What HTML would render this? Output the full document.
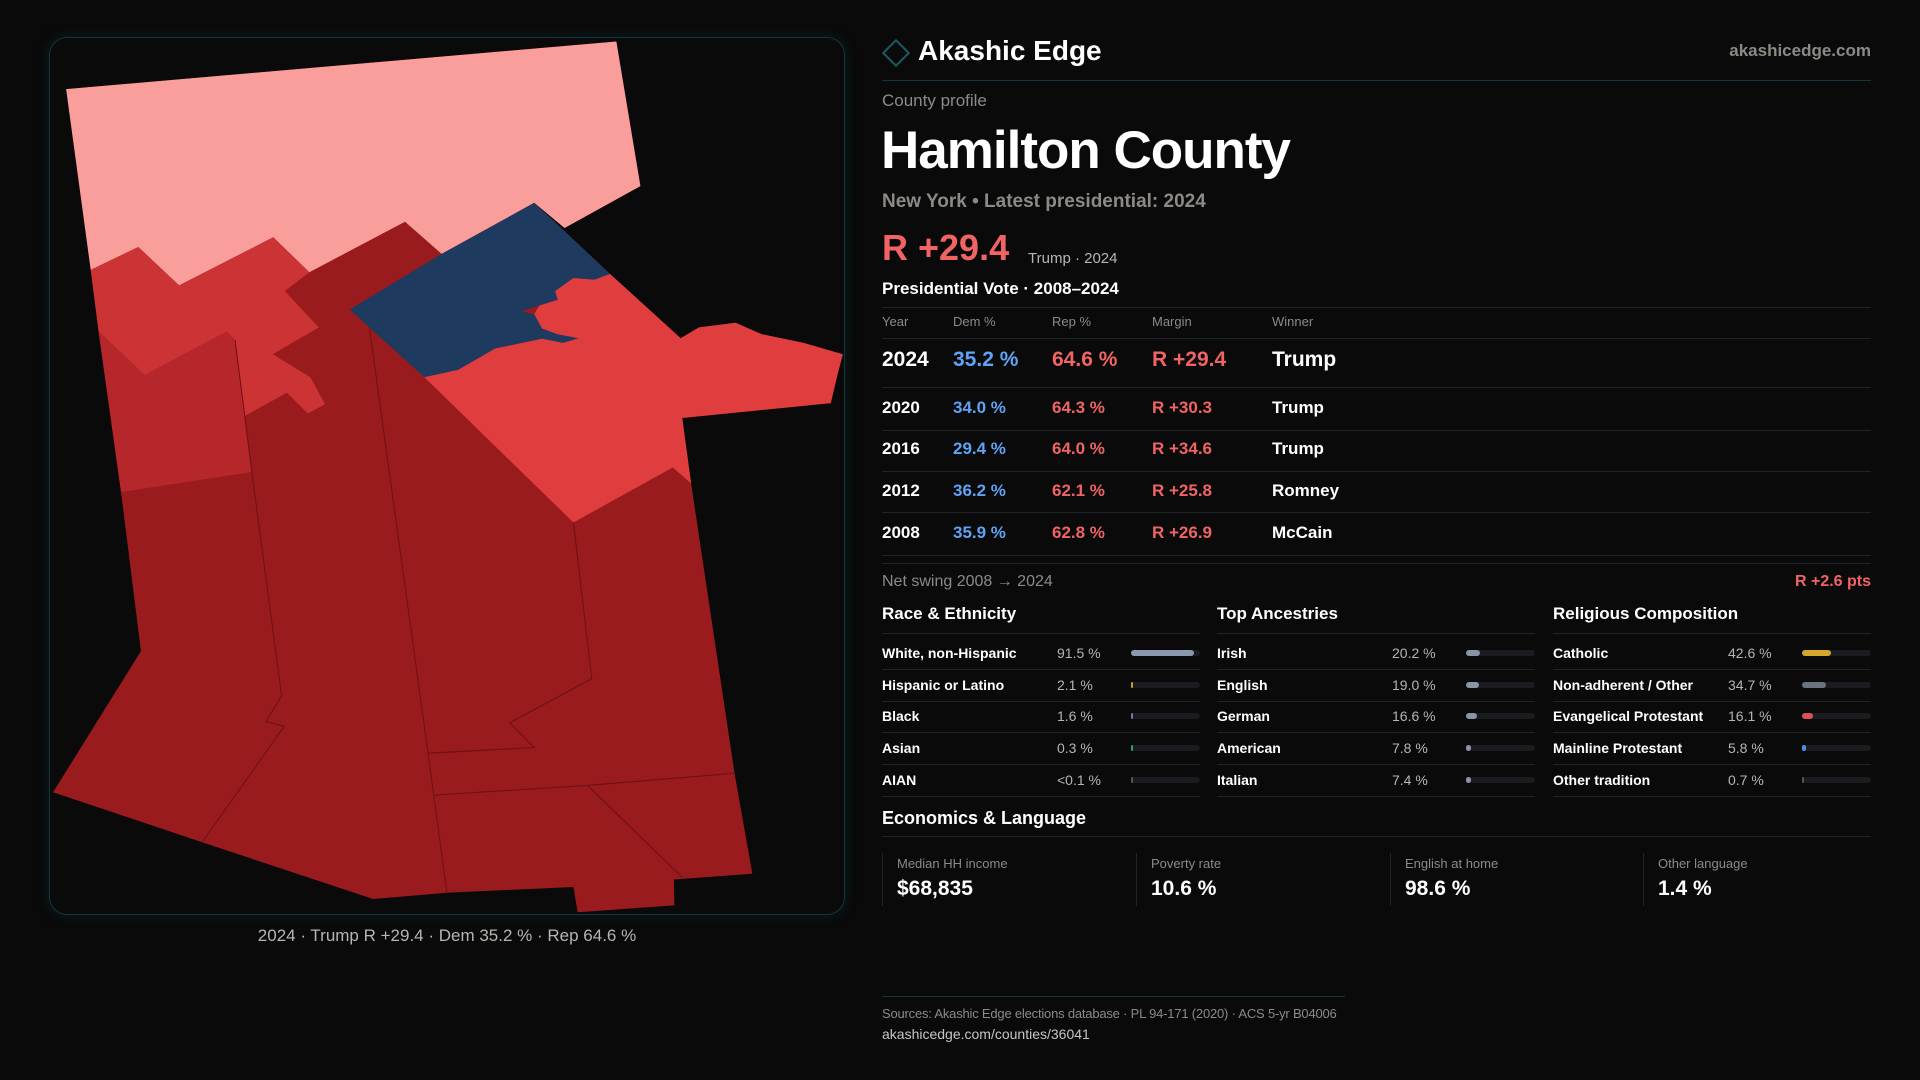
<!DOCTYPE html>
<html><head><meta charset="utf-8">
<style>
*{margin:0;padding:0;box-sizing:border-box}
body{width:1920px;height:1080px;background:#0a0a0b;font-family:"Liberation Sans",sans-serif;color:#fff;position:relative;overflow:hidden}
.a{position:absolute;white-space:nowrap}
.line{position:absolute;height:1px;background:#222326}
.dim{color:#8d8a86}
.blue{color:#5ea3f5}.red{color:#f06464}
</style></head><body>
<div class="a" style="left:49px;top:37px;width:796px;height:878px;border:1px solid #12363a;border-radius:18px;box-shadow:0 0 12px rgba(20,90,100,.25)"></div>
<svg class="a" style="left:0;top:0" width="900" height="960">
<g transform="translate(40,30) scale(0.523,0.574)">
<polygon fill="#991b1e" points="50,103 1102,20 1148,272 1003,345 945,301 1090,425 1225,537 1260,518 1330,510 1380,530 1460,545 1535,565 1525,600 1512,650 1228,676 1245,790 1328,1295 1362,1470 1212,1480 1213,1525 1028,1537 1020,1493 778,1503 637,1514 310,1415 25,1328 193,1082 155,805 112,525 97,418"/>
<polygon fill="#fa9e9c" points="50,103 1102,20 1148,272 1003,345 945,301 768,390 698,334 515,422 446,361 266,445 188,378 97,418"/>
<polygon fill="#1f3a5f" points="592,487 768,390 945,301 1090,425 1060,435 1020,432 985,455 990,470 955,480 920,490 945,495 960,520 990,530 1030,537 1000,545 960,538 870,555 800,592 735,605"/>
<polygon fill="#e03d3e" points="735,605 800,592 870,555 960,538 1000,545 1030,537 990,530 960,520 945,495 955,480 990,470 985,455 1020,432 1060,435 1090,425 1225,537 1260,518 1330,510 1380,530 1460,545 1535,565 1525,600 1512,650 1228,676 1245,790 1210,762 1020,858"/>
<polygon fill="#cc3334" points="97,418 188,378 266,445 446,361 515,422 468,455 533,518 445,565 517,605 545,652 512,668 472,632 392,672 373,540 358,525 200,601 112,525"/>
<polygon fill="#b5272a" points="112,525 200,601 358,525 373,540 405,770 155,805"/>
<g fill="none" stroke="#6e1214" stroke-width="2">
<polyline points="373,540 405,770 462,1160 432,1205 467,1213 310,1415"/>
<polyline points="630,520 742,1260 778,1503"/>
<polyline points="1020,858 1055,1130 898,1207 945,1250 742,1260"/>
<polyline points="752,1333 1047,1316 1328,1295"/>
<polyline points="1047,1316 1230,1478"/>
</g></g></svg>
<div class="a" style="left:49px;width:796px;text-align:center;top:926px;font-size:17px;color:#b8b5b0">2024 · Trump R +29.4 · Dem 35.2 % · Rep 64.6 %</div>

<div class="a" style="left:886px;top:43px;width:20px;height:20px;border:2px solid #1b5b62;transform:rotate(45deg)"></div>
<div class="a" style="left:918px;top:35px;font-size:28px;font-weight:bold">Akashic Edge</div>
<div class="a dim" style="right:49px;top:41px;font-size:17px;font-weight:bold">akashicedge.com</div>
<div class="line" style="left:882px;width:989px;top:80px;background:#13383c"></div>
<div class="a dim" style="left:882px;top:91px;font-size:17px">County profile</div>
<div class="a" style="left:881px;top:120px;font-size:53px;font-weight:bold;letter-spacing:-1px">Hamilton County</div>
<div class="a dim" style="left:882px;top:191px;font-size:19px;font-weight:bold">New York • Latest presidential: 2024</div>
<div class="a red" style="left:882px;top:227px;font-size:36px;font-weight:bold">R +29.4</div>
<div class="a" style="left:1028px;top:250px;font-size:15px;color:#b8b5b0">Trump · 2024</div>
<div class="a" style="left:882px;top:279px;font-size:17px;font-weight:bold">Presidential Vote · 2008–2024</div>
<div class="line" style="left:882px;width:989px;top:307px"></div>
<div id="tbl"></div>
<div class="line" style="left:882px;width:989px;top:563px"></div>
<div class="a dim" style="left:882px;top:573px;font-size:16px">Net swing 2008 → 2024</div>
<div class="a red" style="right:49px;top:573px;font-size:16px;font-weight:bold">R +2.6 pts</div>
<div id="demo"></div>
<div class="a" style="left:882px;top:808px;font-size:18px;font-weight:bold">Economics &amp; Language</div>
<div class="line" style="left:882px;width:989px;top:836px"></div>
<div id="stats"></div>
<div class="line" style="left:882px;width:463px;top:996px;background:#13383c"></div>
<div class="a dim" style="left:882px;top:1006px;font-size:13px;letter-spacing:-0.2px">Sources: Akashic Edge elections database · PL 94-171 (2020) · ACS 5-yr B04006</div>
<div class="a" style="left:882px;top:1026px;font-size:14px;color:#c8c5c0">akashicedge.com/counties/36041</div>

<script>
const years=["2024","2020","2016","2012","2008"];
const demPct=[35.2,34.0,29.4,36.2,35.9];
const repPct=[64.6,64.3,64.0,62.1,62.8];
const margins=[29.4,30.3,34.6,25.8,26.9];
const winners=["Trump","Trump","Trump","Romney","McCain"];
const raceLabels=["White, non-Hispanic","Hispanic or Latino","Black","Asian","AIAN"];
const raceVals=[91.5,2.1,1.6,0.3,0.05];
const raceText=["91.5 %","2.1 %","1.6 %","0.3 %","<0.1 %"];
const ancLabels=["Irish","English","German","American","Italian"];
const ancVals=[20.2,19.0,16.6,7.8,7.4];
const relLabels=["Catholic","Non-adherent / Other","Evangelical Protestant","Mainline Protestant","Other tradition"];
const relVals=[42.6,34.7,16.1,5.8,0.7];
const statLabels=["Median HH income","Poverty rate","English at home","Other language"];
const statVals=["$68,835","10.6 %","98.6 %","1.4 %"];

function mk(parent,css,text,cls){const d=document.createElement('div');d.className='a '+(cls||'');d.style.cssText=css;if(text!==undefined)d.textContent=text;parent.appendChild(d);return d;}
const body=document.body;
const colX=[882,953,1052,1152,1272];
const hdr=["Year","Dem %","Rep %","Margin","Winner"];
hdr.forEach((h,i)=>{const e=mk(body,`left:${colX[i]}px;top:314px;font-size:13px`,h,'dim');

});
const lineY=[338,387,430,471,512,555];
lineY.forEach(y=>mk(body,`left:882px;width:989px;top:${y}px;height:1px;background:#222326`,undefined));
const rowC=[361,408,449,491,533];
years.forEach((y,i)=>{
 const big=i===0, fs=big?21:17, top=rowC[i]-fs*0.6;
 const cells=[[y,'#fff'],[demPct[i].toFixed(1)+' %','#5ea3f5'],[repPct[i].toFixed(1)+' %','#f06464'],['R +'+margins[i].toFixed(1),'#f06464'],[winners[i],'#fff']];
 cells.forEach((c,j)=>{const e=mk(body,`left:${colX[j]}px;top:${top}px;font-size:${fs}px;font-weight:bold;color:${c[1]}`,c[0]);
 
 });
});
const groups=[["Race & Ethnicity",raceLabels,raceVals,raceText,["#8a99b0","#d39a2a","#7d6fb0","#2a9d8f","#555"]],
["Top Ancestries",ancLabels,ancVals,null,["#8a94a6","#8a94a6","#8a94a6","#8a94a6","#8a94a6"]],
["Religious Composition",relLabels,relVals,null,["#d4a82a","#6b7280","#e05252","#4a90e2","#555"]]];
const gx=[882,1217,1553];
const rY=[653,685,716,748,780];
groups.forEach((g,gi)=>{
 const x=gx[gi];
 const t=mk(body,`left:${x}px;top:604px;font-size:17px;font-weight:bold`,g[0]);
 
 
 mk(body,`left:${x}px;width:318px;top:633px;height:1px;background:#222326`);
 g[1].forEach((lab,i)=>{
  const l=mk(body,`left:${x}px;top:${rY[i]-8}px;font-size:14px;font-weight:bold`,lab);
  
  
  const v=mk(body,`left:${x+175}px;top:${rY[i]-8}px;font-size:14px;color:#b8b5b0`,g[3]?g[3][i]:g[2][i].toFixed(1)+' %');
  
  
  const track=mk(body,`left:${x+249}px;top:${rY[i]-3}px;width:69px;height:6px;border-radius:3px;background:#1b1c1f`);
  
  
  const w=Math.max(2,69*g[2][i]/100);
  const b=mk(track,`left:0;top:0;width:${w}px;height:6px;border-radius:3px;background:${g[4][i]}`);
  
  
  mk(body,`left:${x}px;width:318px;top:${rY[i]+16}px;height:1px;background:#222326`);
 });
});
const sx=[882,1136,1390,1643];
statLabels.forEach((s,i)=>{
 mk(body,`left:${sx[i]}px;top:853px;width:1px;height:53px;background:#222326`);
 const l=mk(body,`left:${sx[i]+15}px;top:856px;font-size:13px`,s,'dim');
 
 
 const v=mk(body,`left:${sx[i]+15}px;top:877px;font-size:21px;font-weight:bold`,statVals[i]);
 
 
});
</script>
</body></html>
